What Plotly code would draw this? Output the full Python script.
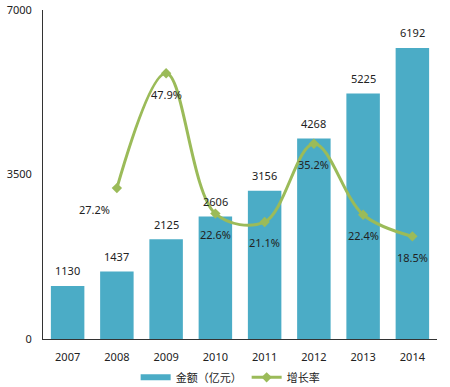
import plotly.graph_objects as go

years = ["2007", "2008", "2009", "2010", "2011", "2012", "2013", "2014"]
amount = [1130, 1437, 2125, 2606, 3156, 4268, 5225, 6192]
growth_years = ["2008", "2009", "2010", "2011", "2012", "2013", "2014"]
growth = [27.2, 47.9, 22.6, 21.1, 35.2, 22.4, 18.5]
y_ticks = [0, 3500, 7000]

bar_color = "#4BACC6"
line_color = "#9BBB59"
font_fam = "Noto Sans, Noto Sans CJK SC, sans-serif"

xi = list(range(len(years)))
gxi = [years.index(y) for y in growth_years]

fig = go.Figure()
fig.add_trace(go.Bar(
    x=xi, y=amount, name="金额（亿元）", showlegend=False,
    marker=dict(color=bar_color, line=dict(width=0)),
    width=0.68,
))
# legend-only swatch so the bar key is drawn as a wide flat block, as in the reference
fig.add_trace(go.Scatter(
    x=[None], y=[None], name="金额（亿元）", mode="lines",
    line=dict(color=bar_color, width=6),
))
fig.add_trace(go.Scatter(
    x=gxi, y=growth, name="增长率", yaxis="y2",
    mode="lines+markers",
    line=dict(color=line_color, width=3, shape="spline", smoothing=1.0),
    marker=dict(symbol="diamond", size=8, color=line_color),
    cliponaxis=False,
))

annotations = []
for x, v in zip(xi, amount):
    annotations.append(dict(x=x, y=v, xref="x", yref="y", text=str(v),
                            showarrow=False, yshift=15, font=dict(size=11, color="#222222")))
for i, (x, v) in enumerate(zip(gxi, growth)):
    annotations.append(dict(x=x, y=v, xref="x", yref="y2", text=f"{v}%",
                            showarrow=False, yshift=-21, xshift=-22 if i == 0 else 0,
                            font=dict(size=11, color="#222222")))

fig.update_layout(
    width=450, height=387,
    margin=dict(l=43, r=13, t=10, b=48, autoexpand=False),
    paper_bgcolor="white", plot_bgcolor="white",
    font=dict(family=font_fam, size=11, color="#222222"),
    showlegend=True,
    legend=dict(orientation="h", x=0.475, xanchor="center", yref="container",
                y=0.025, yanchor="middle", font=dict(size=11), itemwidth=30),
    annotations=annotations,
    xaxis=dict(range=[-0.5, len(years) - 0.5], tickvals=xi, ticktext=years,
               showline=True, linecolor="#333333", linewidth=1, zeroline=False,
               ticks="outside", ticklen=8, tickcolor="rgba(0,0,0,0)", showgrid=False,
               tickfont=dict(size=11)),
    yaxis=dict(range=[0, 7000], tickvals=y_ticks, showline=True, linecolor="#333333",
               linewidth=1, showgrid=False, zeroline=False, ticks="outside", ticklen=8,
               tickcolor="rgba(0,0,0,0)", tickfont=dict(size=11)),
    yaxis2=dict(overlaying="y", range=[0, 59.3], visible=False, showgrid=False),
)

fig.write_html("out.html", config={"displayModeBar": False},
               post_script="document.body.style.margin='0';")
